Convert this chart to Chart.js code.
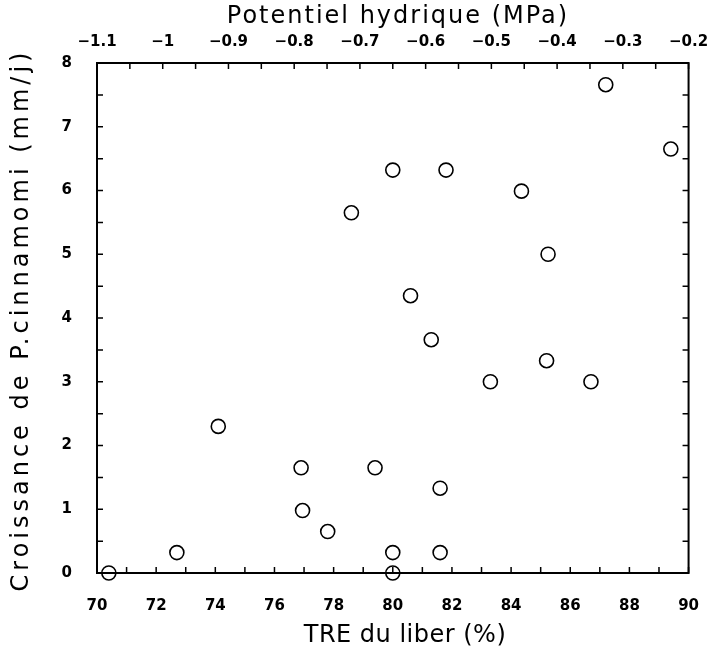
<!DOCTYPE html>
<html>
<head>
<meta charset="utf-8">
<script src="https://cdn.jsdelivr.net/npm/chart.js@4"></script>
<style>
  body { margin: 0; background: #fff; }
  #wrap { width: 715px; height: 655px; }
</style>
</head>
<body>
<div id="wrap"><canvas id="chart" width="715" height="655"></canvas></div>
<script>
// TRE du liber (%) vs croissance (mm/j)
const treValues = [70.4, 72.7, 74.1, 76.9, 76.95, 77.8, 78.6, 79.4, 80.0, 80.0, 80.0, 80.6,
                   81.3, 81.6, 81.6, 81.8, 83.3, 84.35, 85.2, 85.25, 86.7, 87.2, 89.4];
const growthValues = [0, 0.32, 2.3, 1.65, 0.98, 0.65, 5.65, 1.65, 0.32, 0, 6.32, 4.35,
                      3.66, 1.33, 0.32, 6.32, 3.0, 5.99, 3.33, 5.0, 3.0, 7.66, 6.65];

const bottomTicks = [70, 72, 74, 76, 78, 80, 82, 84, 86, 88, 90];
const topTicks = [-1.1, -1, -0.9, -0.8, -0.7, -0.6, -0.5, -0.4, -0.3, -0.2];
const topTickLabels = ['\u22121.1', '\u22121', '\u22120.9', '\u22120.8', '\u22120.7',
                       '\u22120.6', '\u22120.5', '\u22120.4', '\u22120.3', '\u22120.2'];
const yTicks = [0, 1, 2, 3, 4, 5, 6, 7, 8];

const FONT = 'DejaVu Sans';
const tickFont = { family: FONT, size: 15, weight: 'bold' };

// frame, ticks pointing inside, and the three axis titles
const frameAndTitles = {
  id: 'frameAndTitles',
  afterDraw(chart) {
    const { ctx, chartArea: a, scales } = chart;
    ctx.save();
    ctx.strokeStyle = '#000';
    ctx.lineWidth = 2;
    ctx.strokeRect(a.left, a.top, a.right - a.left, a.bottom - a.top);
    ctx.lineWidth = 1.5;
    ctx.beginPath();
    for (let v = 70; v <= 90; v++) {
      const px = scales.x.getPixelForValue(v);
      ctx.moveTo(px, a.bottom);
      ctx.lineTo(px, a.bottom - 6);
    }
    for (let i = 0; i <= 18; i++) {
      const px = scales.x2.getPixelForValue(-1.1 + i * 0.05);
      ctx.moveTo(px, a.top);
      ctx.lineTo(px, a.top + 6);
    }
    for (let i = 0; i <= 16; i++) {
      const py = scales.y.getPixelForValue(i * 0.5);
      ctx.moveTo(a.left, py);
      ctx.lineTo(a.left + 6, py);
      ctx.moveTo(a.right, py);
      ctx.lineTo(a.right - 6, py);
    }
    ctx.stroke();

    ctx.fillStyle = '#000';
    ctx.font = '24px "' + FONT + '"';
    ctx.textAlign = 'center';
    ctx.textBaseline = 'middle';
    ctx.letterSpacing = '2px';
    ctx.fillText('Potentiel hydrique (MPa)', 398, 17);
    ctx.letterSpacing = '0.5px';
    ctx.fillText('TRE du liber (%)', 405, 636);
    ctx.translate(22, 320);
    ctx.rotate(-Math.PI / 2);
    ctx.letterSpacing = '4px';
    ctx.fillText('Croissance de P.cinnamomi (mm/j)', 0, 0);
    ctx.restore();
  }
};

new Chart(document.getElementById('chart'), {
  type: 'scatter',
  data: {
    datasets: [{
      data: treValues.map((x, i) => ({ x, y: growthValues[i] })),
      pointStyle: 'circle',
      pointRadius: 7,
      pointHoverRadius: 7,
      borderColor: '#000',
      borderWidth: 1.6,
      backgroundColor: 'rgba(0,0,0,0)',
      clip: false
    }]
  },
  options: {
    responsive: false,
    animation: false,
    layout: { padding: { right: 25 } },
    plugins: { legend: { display: false }, tooltip: { enabled: false } },
    scales: {
      x: {
        type: 'linear', position: 'bottom', min: 70, max: 90,
        afterBuildTicks: s => { s.ticks = bottomTicks.map(v => ({ value: v })); },
        afterFit: s => { s.height = 82; },
        grid: { display: false },
        border: { display: false },
        ticks: { color: '#000', font: tickFont, padding: 16, maxRotation: 0 }
      },
      x2: {
        type: 'linear', position: 'top', min: -1.1, max: -0.2,
        afterBuildTicks: s => { s.ticks = topTicks.map(v => ({ value: v })); },
        afterFit: s => { s.height = 63; },
        grid: { display: false },
        border: { display: false },
        ticks: { color: '#000', font: tickFont, padding: 4, maxRotation: 0,
                 callback: (v, i) => topTickLabels[i] }
      },
      y: {
        type: 'linear', position: 'left', min: 0, max: 8,
        afterBuildTicks: s => { s.ticks = yTicks.map(v => ({ value: v })); },
        afterFit: s => { s.width = 97; },
        grid: { display: false },
        border: { display: false },
        ticks: { color: '#000', font: tickFont, padding: 17 }
      }
    }
  },
  plugins: [frameAndTitles]
});
</script>
</body>
</html>
